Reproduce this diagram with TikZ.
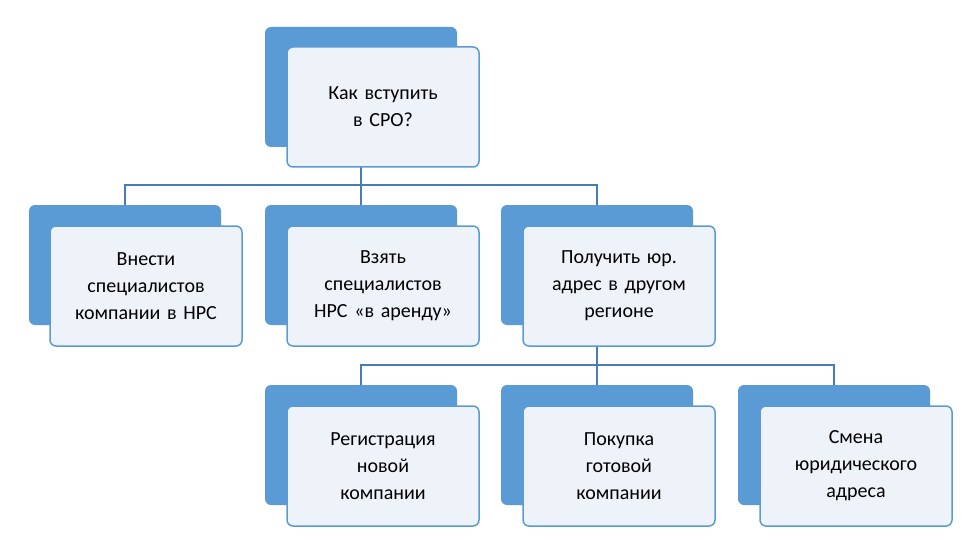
\documentclass[tikz,border=0pt]{standalone}
\usepackage{fontspec}
\setmainfont{Carlito}
\usetikzlibrary{backgrounds}

\definecolor{boxblue}{RGB}{91,155,213}
\definecolor{boxfill}{RGB}{238,243,250}
\definecolor{linkblue}{RGB}{70,125,180}

\tikzset{
    back/.style={fill=boxblue, rounded corners=6pt, minimum width=192pt, minimum height=120pt, inner sep=0pt},
    front/.style={draw=boxblue, line width=1.5pt, fill=boxfill, rounded corners=6pt, minimum width=192pt, minimum height=120pt, align=center, text width=170pt, font=\fontsize{20}{27}\selectfont},
    link/.style={draw=linkblue, line width=1.5pt}
}

\begin{document}
\begin{tikzpicture}[x=1pt,y=-1pt]

    \useasboundingbox (0,0) rectangle (971,548);

    % question
    \node[back] (qb) at (361,87) {};
    \node[front] (q) at (383,107) {Как вступить\\в СРО?};

    % ways
    \node[back] (w1b) at (125,265) {};
    \node[front] (w1) at (146,286) {Внести\\специалистов\\компании в НРС};
    \node[back] (w2b) at (361,265) {};
    \node[front] (w2) at (383,286) {Взять\\специалистов\\НРС «в аренду»};
    \node[back] (w3b) at (597,265) {};
    \node[front] (w3) at (619,286) {Получить юр.\\адрес в другом\\регионе};

    % options
    \node[back] (o1b) at (361,445) {};
    \node[front] (o1) at (383,466) {Регистрация\\новой\\компании};
    \node[back] (o2b) at (597,445) {};
    \node[front] (o2) at (619,466) {Покупка\\готовой\\компании};
    \node[back] (o3b) at (834,445) {};
    \node[front] (o3) at (856,466) {Смена\\юридического\\адреса};

    \coordinate (bus1) at (361,185);
    \coordinate (bus2) at (597,365);

    \begin{scope}[on background layer]
        \draw[link] (qb.center) -- (bus1);
        \foreach \n in {w1b,w2b,w3b} \draw[link] (bus1) -| (\n.center);
        \draw[link] (w3b.center) -- (bus2);
        \foreach \n in {o1b,o2b,o3b} \draw[link] (bus2) -| (\n.center);
    \end{scope}

\end{tikzpicture}
\end{document}
